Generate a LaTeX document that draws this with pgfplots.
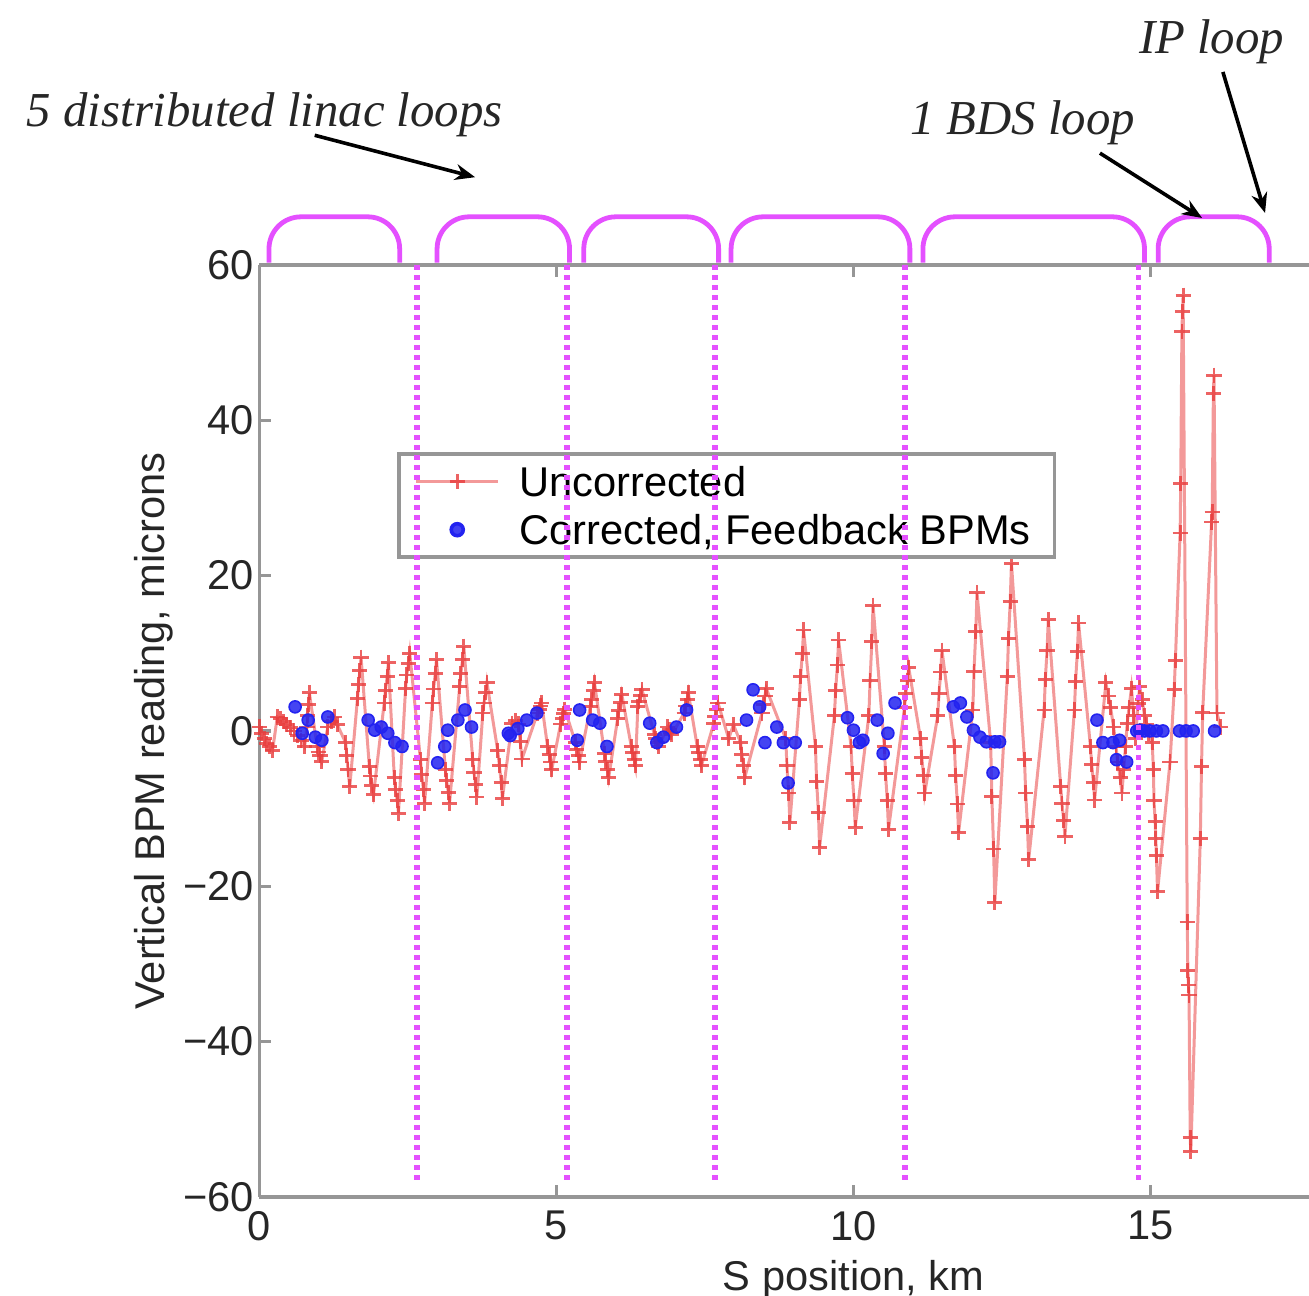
\documentclass[border=0pt]{standalone}
\usepackage{fontspec}
\setmainfont{Liberation Sans}
\newfontfamily\annfont{Liberation Serif}
\usepackage{pgfplots}
\pgfplotsset{compat=1.18}
\usetikzlibrary{arrows.meta}
\definecolor{uncred}{RGB}{232,60,60}
\definecolor{corblue}{RGB}{35,35,240}
\definecolor{loopmag}{RGB}{228,80,255}
\definecolor{axgray}{RGB}{150,150,150}
\tikzset{looparc/.style={loopmag, line width=1.2pt, rounded corners=8pt},
  loopline/.style={loopmag, line width=1.4pt, dash pattern=on 1.2pt off 1.3pt}}
\pgfplotsset{
  redleg/.style={legend image code/.code={\draw[mark repeat=2,mark phase=2,##1] plot coordinates {(0cm,0cm)(0.36cm,0cm)(0.72cm,0cm)};}},
  blueleg/.style={legend image code/.code={\draw[##1] plot coordinates {(0.36cm,0cm)};}},
}
\begin{document}
\begin{tikzpicture}
\begin{axis}[
  name=ax,
  set layers=standard,
  scale only axis,
  width=262.4pt, height=233pt,
  xmin=0, xmax=17.67, ymin=-60, ymax=60,
  axis x line*=box, axis y line*=left,
  axis line style={axgray, line width=0.9pt},
  xtick={0,5,10,15}, ytick={-60,-40,-20,0,20,40,60},
  yticklabels={−60,−40,−20,0,20,40,60},
  tick align=inside, major tick length=3pt,
  tick style={axgray, line width=0.8pt},
  every tick label/.append style={font=\fontsize{10.4}{12}\selectfont, text=black!85},
  yticklabel style={inner xsep=1.2pt},
  /pgf/number format/assume math mode=true,
  xlabel={S position, km}, ylabel={Vertical BPM reading, microns},
  label style={font=\fontsize{10.4}{12}\selectfont, text=black!85},
  xlabel style={at={(ticklabel cs:0.566)}, anchor=near ticklabel, yshift=2pt},
  ylabel style={yshift=-2.2pt},
  clip=false,
  legend style={at={(0.131,0.799)}, anchor=north west, draw=axgray, line width=0.9pt,
    font=\fontsize{10.4}{12}\selectfont, inner xsep=4pt, inner ysep=1.3pt, row sep=0.8pt,
    nodes={inner ysep=0.5pt, text height=8.7pt, text depth=1.5pt},
    /tikz/every odd column/.append style={column sep=3pt}},
  legend cell align=left,
]
\addplot[color=uncred, line width=0.75pt, draw opacity=0.52, mark=+, mark size=1.9pt,
  mark options={solid, line width=0.7pt, draw opacity=0.8}, redleg]
  coordinates {
(0.00,0.5)(0.04,-0.3)(0.08,-1.0)(0.12,-1.6)(0.17,-2.0)(0.22,-2.5)
(0.30,1.8)(0.35,1.6)(0.40,1.2)(0.46,0.8)(0.52,0.4)(0.58,0.0)
(0.64,-0.6)(0.70,-1.2)(0.76,-2.0)
(0.80,0.5)(0.81,2.0)(0.83,3.4)(0.84,4.9)
(0.97,-2.0)(0.99,-2.7)(1.02,-3.2)(1.05,-3.9)
(1.15,0.5)(1.21,1.2)(1.26,1.8)(1.31,0.8)
(1.45,-1.5)(1.47,-3.2)(1.49,-5.0)(1.52,-7.2)
(1.65,4.2)(1.67,6.0)(1.69,7.8)(1.71,9.5)
(1.85,-4.6)(1.87,-5.8)(1.89,-7.0)(1.92,-8.2)
(2.10,3.6)(2.12,5.2)(2.15,7.0)(2.17,8.8)
(2.27,-6.0)(2.29,-7.5)(2.32,-9.0)(2.34,-10.6)
(2.46,5.5)(2.48,7.2)(2.51,8.7)(2.53,10.0)
(2.71,-3.7)(2.73,-5.6)(2.76,-7.5)(2.78,-9.3)
(2.91,3.6)(2.93,5.4)(2.96,7.4)(2.98,9.2)
(3.13,-5.0)(3.15,-6.4)(3.18,-7.9)(3.20,-9.3)
(3.37,5.7)(3.39,7.4)(3.42,9.2)(3.44,10.9)
(3.59,-3.7)(3.61,-5.3)(3.64,-6.9)(3.66,-8.5)
(3.76,2.3)(3.78,3.6)(3.81,4.9)(3.83,6.2)
(4.01,-2.5)(4.04,-4.5)(4.07,-6.6)(4.09,-8.7)
(4.25,1.0)(4.31,1.3)(4.36,0.9)(4.39,-1.4)(4.42,-3.6)
(4.68,2.3)(4.71,2.8)(4.73,3.2)(4.75,3.6)
(4.85,-2.0)(4.88,-3.0)(4.90,-4.0)(4.92,-5.0)
(5.07,0.9)(5.10,1.6)(5.12,2.2)(5.14,2.8)
(5.32,-1.5)(5.34,-2.4)(5.37,-3.2)(5.39,-4.0)
(5.57,3.1)(5.59,4.1)(5.62,5.2)(5.64,6.2)
(5.81,-2.9)(5.83,-3.9)(5.86,-5.0)(5.88,-6.0)
(6.03,1.6)(6.05,2.6)(6.08,3.7)(6.10,4.7)
(6.26,-2.0)(6.28,-2.8)(6.31,-3.7)(6.33,-4.5)
(6.37,3.1)(6.39,3.8)(6.42,4.6)(6.44,5.3)
(6.65,-0.5)(6.67,-1.0)(6.70,-1.5)(6.72,-2.0)
(6.87,0.5)(6.90,0.2)(6.92,-0.2)(6.94,-0.5)
(7.15,2.3)(7.17,3.2)(7.20,4.0)(7.22,4.9)
(7.37,-2.0)(7.39,-2.8)(7.42,-3.7)(7.44,-4.5)
(7.65,1.0)(7.67,1.9)(7.70,2.8)(7.72,3.6)
(7.90,-1.0)(7.98,0.8)
(8.10,-1.5)(8.12,-3.0)(8.15,-4.5)(8.17,-6.0)
(8.46,2.3)(8.48,3.4)(8.51,4.5)(8.53,5.5)
(8.86,-1.0)(8.88,-4.5)(8.91,-8.0)(8.93,-11.8)
(9.09,4.0)(9.11,7.0)(9.14,10.0)(9.16,13.0)
(9.36,-2.0)(9.38,-6.5)(9.41,-10.5)(9.43,-15.0)
(9.68,2.0)(9.70,5.2)(9.73,8.5)(9.75,11.7)
(9.96,-2.0)(9.98,-5.5)(10.01,-9.0)(10.03,-12.4)
(10.26,2.0)(10.28,6.5)(10.31,11.5)(10.33,16.2)
(10.52,-2.0)(10.54,-5.5)(10.57,-9.0)(10.59,-12.7)
(10.86,3.0)(10.88,4.8)(10.91,6.5)(10.93,8.2)
(11.13,-1.0)(11.15,-3.4)(11.18,-5.7)(11.20,-8.0)
(11.42,2.0)(11.44,4.8)(11.47,7.6)(11.49,10.4)
(11.70,-2.0)(11.72,-5.7)(11.75,-9.4)(11.77,-13.1)
(12.01,2.7)(12.03,7.7)(12.06,12.8)(12.08,17.8)
(12.31,-1.5)(12.33,-8.4)(12.36,-15.2)(12.38,-22.1)
(12.59,7.0)(12.61,11.9)(12.64,16.7)(12.66,21.6)
(12.88,-3.7)(12.90,-8.0)(12.93,-12.3)(12.95,-16.6)
(13.21,2.7)(13.23,6.6)(13.26,10.4)(13.28,14.3)
(13.49,-7.2)(13.51,-9.3)(13.54,-11.5)(13.56,-13.6)
(13.72,2.7)(13.74,6.4)(13.77,10.2)(13.79,13.9)
(13.99,-2.0)(14.01,-4.3)(14.04,-6.6)(14.06,-8.9)
(14.25,6.2)(14.29,4.5)(14.33,3.0)(14.38,0.5)
(14.42,-2.0)(14.45,-4.0)(14.49,-6.0)(14.52,-8.0)
(14.55,-5.0)(14.58,-2.0)(14.61,1.0)(14.64,3.0)(14.68,5.5)(14.72,2.0)(14.75,-1.0)(14.79,3.5)
(14.82,5.7)(14.86,4.0)(14.90,2.0)(14.94,0.8)
(14.97,-0.3)(15.03,-1.5)(15.05,-5.0)(15.06,-9.0)(15.08,-11.7)(15.09,-13.8)(15.10,-16.0)(15.12,-20.7)
(15.33,-4.0)(15.40,5.3)(15.42,9.1)
(15.50,25.5)(15.51,31.9)(15.53,51.4)(15.54,54.0)(15.55,56.1)
(15.62,-24.6)(15.63,-30.8)(15.64,-32.7)(15.65,-34.0)(15.67,-52.4)(15.68,-54.2)
(15.84,-13.8)(15.86,-4.6)(15.88,2.4)
(16.03,26.9)(16.04,28.2)(16.06,43.5)(16.07,45.8)
(16.12,2.3)(16.18,0.5)
};
\addlegendentry{Uncorrected}
\addplot[only marks, mark=*, mark size=1.5pt, color=corblue,
  mark options={draw=none, fill=corblue, fill opacity=0.85}, blueleg]
  coordinates {
(0.60,3.1)(0.72,-0.3)(0.82,1.4)(0.94,-0.8)(1.05,-1.2)(1.15,1.8)(1.83,1.4)(1.94,0.1)(2.05,0.5)(2.16,-0.3)
(2.28,-1.5)(2.40,-2.0)(3.00,-4.1)(3.12,-2.0)(3.17,0.1)(3.34,1.4)(3.46,2.7)(3.57,0.5)(4.19,-0.3)(4.22,-0.6)
(4.35,0.3)(4.50,1.4)(4.67,2.3)(5.35,-1.2)(5.39,2.7)(5.61,1.4)(5.73,1.0)(5.85,-2.0)(6.57,1.0)(6.69,-1.5)
(6.80,-0.8)(7.02,0.5)(7.19,2.7)(8.20,1.4)(8.31,5.3)(8.42,3.1)(8.51,-1.5)(8.71,0.5)(8.82,-1.5)(8.90,-6.7)
(9.02,-1.5)(9.90,1.7)(10.00,0.1)(10.10,-1.5)(10.16,-1.2)(10.40,1.4)(10.50,-2.9)(10.58,-0.3)(10.70,3.6)
(11.68,3.1)(11.80,3.6)(11.91,1.8)(12.02,0.1)(12.13,-0.8)(12.24,-1.4)(12.35,-5.4)(12.38,-1.4)(12.46,-1.4)
(14.10,1.4)(14.20,-1.5)(14.37,-1.5)(14.43,-3.7)(14.48,-1.2)(14.60,-4.0)(14.77,0.0)(14.82,0.1)(14.90,0.0)
(14.99,0.0)(15.10,0.0)(15.21,0.0)(15.49,0.0)(15.60,0.0)(15.72,0.0)(16.08,0.0)
};
\addlegendentry{Corrected, Feedback BPMs}
% loop boundaries
\addplot[forget plot, on layer=axis foreground, loopline] coordinates {(2.65,60)(2.65,-58.2)};
\addplot[forget plot, on layer=axis foreground, loopline] coordinates {(5.18,60)(5.18,-58.2)};
\addplot[forget plot, on layer=axis foreground, loopline] coordinates {(7.67,60)(7.67,-58.2)};
\addplot[forget plot, on layer=axis foreground, loopline] coordinates {(10.87,60)(10.87,-58.2)};
\addplot[forget plot, on layer=axis foreground, loopline] coordinates {(14.80,60)(14.80,-58.2)};
% loops above the axis
\draw[looparc] (axis cs:0.16,60.3) -- (axis cs:0.16,66.2) -- (axis cs:2.36,66.2) -- (axis cs:2.36,60.3);
\draw[looparc] (axis cs:2.99,60.3) -- (axis cs:2.99,66.2) -- (axis cs:5.22,66.2) -- (axis cs:5.22,60.3);
\draw[looparc] (axis cs:5.46,60.3) -- (axis cs:5.46,66.2) -- (axis cs:7.73,66.2) -- (axis cs:7.73,60.3);
\draw[looparc] (axis cs:7.94,60.3) -- (axis cs:7.94,66.2) -- (axis cs:10.95,66.2) -- (axis cs:10.95,60.3);
\draw[looparc] (axis cs:11.17,60.3) -- (axis cs:11.17,66.2) -- (axis cs:14.90,66.2) -- (axis cs:14.90,60.3);
\draw[looparc] (axis cs:15.13,60.3) -- (axis cs:15.13,66.2) -- (axis cs:17.0,66.2) -- (axis cs:17.0,60.3);
% annotations
\node[font=\annfont\itshape\fontsize{12.2}{14}\selectfont, text=black!85] at (axis cs:0.09,79.3) {5 distributed linac loops};
\node[font=\annfont\itshape\fontsize{12.2}{14}\selectfont, text=black!85] at (axis cs:12.85,78.3) {1 BDS loop};
\node[font=\annfont\itshape\fontsize{12.2}{14}\selectfont, text=black!85] at (axis cs:16.03,88.8) {IP loop};
\draw[-{Stealth[length=5pt,width=4pt]}, line width=0.9pt] (axis cs:0.93,76.7) -- (axis cs:3.63,71.3);
\draw[-{Stealth[length=5pt,width=4pt]}, line width=0.9pt] (axis cs:14.15,74.4) -- (axis cs:15.87,66.05);
\draw[-{Stealth[length=5pt,width=4pt]}, line width=0.9pt] (axis cs:16.22,84.85) -- (axis cs:16.93,66.7);
\end{axis}
\pgfresetboundingbox
\path[use as bounding box] ([xshift=-64.875pt, yshift=-24.75pt]ax.south west) rectangle ([yshift=66.25pt]ax.north east);
\end{tikzpicture}
\end{document}
